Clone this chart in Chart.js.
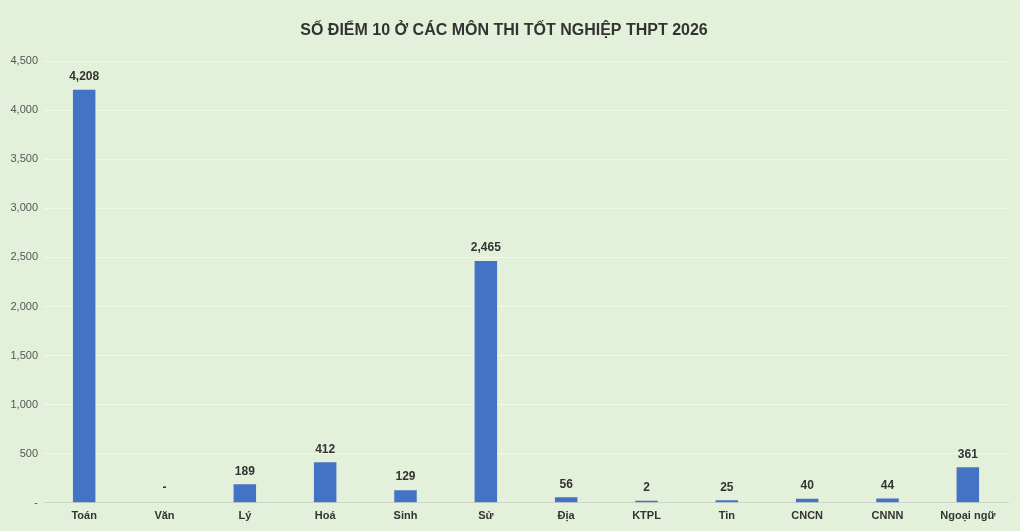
<!DOCTYPE html>
<html>
<head>
<meta charset="utf-8">
<script src="https://cdn.jsdelivr.net/npm/chart.js@4"></script>
<style>
    html, body { margin: 0; padding: 0; background: rgb(228, 241, 218); }
    #wrap { width: 1020px; height: 531px; }
</style>
</head>
<body>
<div id="wrap"><canvas id="diemChart"></canvas></div>
<script>
const subjects = ['Toán', 'Văn', 'Lý', 'Hoá', 'Sinh', 'Sử', 'Địa', 'KTPL', 'Tin', 'CNCN', 'CNNN', 'Ngoại ngữ'];
const tenPoints = [4208, 0, 189, 412, 129, 2465, 56, 2, 25, 40, 44, 361];
const yTicks = [0, 500, 1000, 1500, 2000, 2500, 3000, 3500, 4000, 4500];

const fontFamily = '"Liberation Sans", Arial, sans-serif';

function fmt(v) {
    return v === 0 ? '-' : v.toLocaleString('en-US');
}

// draws the value above each bar
const valueLabels = {
    id: 'valueLabels',
    afterDatasetsDraw(chart) {
        const ctx = chart.ctx;
        const meta = chart.getDatasetMeta(0);
        ctx.save();
        ctx.font = 'bold 12px ' + fontFamily;
        ctx.fillStyle = '#333';
        ctx.textAlign = 'center';
        ctx.textBaseline = 'bottom';
        meta.data.forEach((bar, i) => {
            ctx.fillText(fmt(tenPoints[i]), bar.x, bar.y - 7);
        });
        ctx.restore();
    }
};

const ctx = document.getElementById('diemChart').getContext('2d');
new Chart(ctx, {
    type: 'bar',
    data: {
        labels: subjects,
        datasets: [{
            data: tenPoints,
            // zero bar stays invisible, tiny ones get a min height
            backgroundColor: (c) => c.raw === 0 ? 'rgba(0,0,0,0)' : 'rgb(68, 114, 196)',
            borderWidth: 0,
            minBarLength: 2,
            categoryPercentage: 1,
            barPercentage: 0.28
        }]
    },
    options: {
        responsive: true,
        maintainAspectRatio: false,
        animation: false,
        layout: {
            padding: { left: 0, right: 12, top: 0, bottom: 1 }
        },
        plugins: {
            legend: { display: false },
            tooltip: { enabled: false },
            title: {
                display: true,
                text: 'SỐ ĐIỂM 10 Ở CÁC MÔN THI TỐT NGHIỆP THPT 2026',
                color: '#333',
                font: { family: fontFamily, size: 16, weight: 'bold' },
                padding: { top: 21, bottom: 21 }
            }
        },
        scales: {
            x: {
                grid: { display: false, drawTicks: false },
                border: { color: 'rgb(205, 213, 200)' },
                ticks: {
                    color: '#333',
                    font: { family: fontFamily, size: 11, weight: 'bold' },
                    padding: 7,
                    maxRotation: 0
                }
            },
            y: {
                min: 0,
                max: 4500,
                afterFit(scale) { scale.width = 44; },
                afterBuildTicks(scale) { scale.ticks = yTicks.map(v => ({ value: v })); },
                grid: { color: 'rgba(255, 255, 255, 0.45)', drawTicks: false },
                border: { display: false },
                ticks: {
                    color: '#555',
                    font: { family: fontFamily, size: 11 },
                    padding: 6,
                    callback: function(value) { return fmt(value); }
                }
            }
        }
    },
    plugins: [valueLabels]
});
</script>
</body>
</html>
